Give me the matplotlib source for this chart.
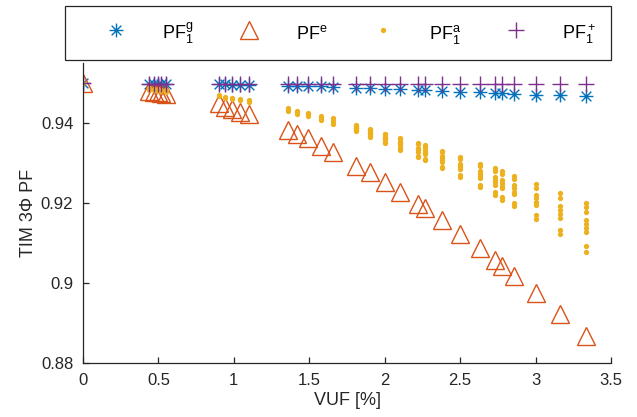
import matplotlib
matplotlib.use('Agg')
import matplotlib.pyplot as plt
from matplotlib.path import Path

plt.rcParams['font.family'] = ['Liberation Sans', 'DejaVu Sans']
plt.rcParams['mathtext.default'] = 'regular'

# VUF values of the cases (same for every series)
vuf = [0.0,
       0.44, 0.47, 0.50, 0.52, 0.55,
       0.90, 0.94, 0.99, 1.04, 1.10,
       1.36, 1.42, 1.49, 1.58, 1.66,
       1.81, 1.90, 2.00, 2.10, 2.22, 2.27, 2.38, 2.50, 2.63,
       2.73, 2.78, 2.86, 3.00, 3.16, 3.335]

pf_e = [0.9500,
        0.9481, 0.9479, 0.9477, 0.9475, 0.9473,
        0.9450, 0.9441, 0.9435, 0.9429, 0.9423,
        0.9383, 0.9373, 0.9362, 0.9343, 0.9329,
        0.9294, 0.9277, 0.9253, 0.9229, 0.9199, 0.9187, 0.9157, 0.9124, 0.9087,
        0.9058, 0.9044, 0.9019, 0.8975, 0.8924, 0.8867]

pf1_g = [0.9500,
         0.9499, 0.9499, 0.9499, 0.9499, 0.9499,
         0.9497, 0.9497, 0.9496, 0.9496, 0.9495,
         0.9494, 0.9494, 0.9493, 0.9492, 0.9491,
         0.9488, 0.9487, 0.9486, 0.9485, 0.9483, 0.9483, 0.9481, 0.9479, 0.9477,
         0.9475, 0.9475, 0.9474, 0.9471, 0.9470, 0.9467]

pf1_plus = [0.9500] + [0.9499] * 10 + [0.9498] * 20

# approximate PF (several cases per VUF value)
pf1_a = [[0.9500],
         [0.9487, 0.9484], [0.9486, 0.9482], [0.9485, 0.9481], [0.9484, 0.9480], [0.9483, 0.9478],
         [0.9470, 0.9467], [0.9466, 0.9463], [0.9464, 0.9461], [0.9460, 0.9457], [0.9457, 0.9453],
         [0.9437, 0.9434, 0.9431], [0.9431, 0.9427, 0.9424], [0.9426, 0.9422, 0.9418],
         [0.9419, 0.9414, 0.9409], [0.9412, 0.9406, 0.9399],
         [0.9395, 0.9394, 0.9390, 0.9389, 0.9387, 0.9386, 0.9382, 0.9380],
         [0.9385, 0.9383, 0.9378, 0.9376, 0.9375, 0.9373, 0.9367, 0.9365],
         [0.9374, 0.9372, 0.9366, 0.9364, 0.9362, 0.9360, 0.9353, 0.9351],
         [0.9363, 0.9360, 0.9353, 0.9351, 0.9348, 0.9345, 0.9337, 0.9334],
         [0.9351, 0.9347, 0.9339, 0.9336, 0.9332, 0.9329, 0.9319, 0.9315],
         [0.9345, 0.9341, 0.9333, 0.9329, 0.9325, 0.9322, 0.9311, 0.9307],
         [0.9331, 0.9327, 0.9317, 0.9312, 0.9308, 0.9304, 0.9291, 0.9287],
         [0.9316, 0.9311, 0.9299, 0.9294, 0.9290, 0.9285, 0.9270, 0.9265],
         [0.9299, 0.9293, 0.9280, 0.9274, 0.9268, 0.9263, 0.9246, 0.9240],
         [0.9287, 0.9280, 0.9265, 0.9258, 0.9252, 0.9246, 0.9227, 0.9220],
         [0.9280, 0.9273, 0.9257, 0.9250, 0.9243, 0.9237, 0.9216, 0.9209],
         [0.9269, 0.9260, 0.9246, 0.9238, 0.9229, 0.9223, 0.9200, 0.9192],
         [0.9248, 0.9237, 0.9221, 0.9212, 0.9204, 0.9196, 0.9171, 0.9160],
         [0.9225, 0.9214, 0.9192, 0.9182, 0.9173, 0.9163, 0.9133, 0.9123],
         [0.9200, 0.9190, 0.9179, 0.9158, 0.9148, 0.9138, 0.9127, 0.9092, 0.9079]]

xa, ya = [], []
for x, vals in zip(vuf, pf1_a):
    for v in vals:
        xa.append(x)
        ya.append(v)

# matlab style asterisk
M, L = Path.MOVETO, Path.LINETO
asterisk = Path([(-1, 0), (1, 0), (0, -1), (0, 1),
                 (-0.7, -0.7), (0.7, 0.7), (-0.7, 0.7), (0.7, -0.7)],
                [M, L, M, L, M, L, M, L])

blue = '#0072BD'
orange = '#D95319'
yellow = '#EDB120'
purple = '#7E2F8E'

fig = plt.figure(figsize=(6.37, 4.17), dpi=100)
ax = fig.add_axes([0.1303, 0.1288, 0.8289, 0.7194])

ax.plot(vuf, pf1_g, linestyle='none', marker=asterisk, ms=10, mec=blue, mfc='none',
        mew=1.0, label=r'PF$_1^g$')
ax.plot(vuf, pf_e, linestyle='none', marker='^', ms=12.5, mec=orange, mfc='none',
        mew=1.0, label=r'PF$^e$')
ax.plot(xa, ya, linestyle='none', marker='o', ms=3.8, mec='none', mfc=yellow,
        label=r'PF$_1^a$')
ax.plot(vuf, pf1_plus, linestyle='none', marker='+', ms=11, mec=purple, mew=1.0,
        label=r'PF$_1^+$')

ax.set_xlim(0, 3.5)
ax.set_ylim(0.88, 0.955)
ax.set_xticks([0, 0.5, 1, 1.5, 2, 2.5, 3, 3.5])
ax.set_xticklabels(['0', '0.5', '1', '1.5', '2', '2.5', '3', '3.5'])
ax.set_yticks([0.88, 0.9, 0.92, 0.94])
ax.set_yticklabels(['0.88', '0.9', '0.92', '0.94'])
ax.spines['top'].set_visible(False)
ax.spines['right'].set_visible(False)
for s in ['left', 'bottom']:
    ax.spines[s].set_color('#262626')
    ax.spines[s].set_linewidth(0.9)
ax.tick_params(direction='in', length=4, width=0.9, colors='#262626',
               labelsize=12, labelcolor='#262626', pad=7)
ax.set_xlabel('VUF [%]', fontsize=13, color='#262626', labelpad=3)
ax.set_ylabel('TIM 3\u03a6 PF', fontsize=13, color='#262626', labelpad=3)

leg = fig.legend(loc='lower left', bbox_to_anchor=(65 / 637, 1 - 60 / 417, 546 / 637, 52 / 417),
                 mode='expand', ncol=4, fontsize=13, fancybox=False, framealpha=1,
                 edgecolor='#262626', handlelength=4.1, handletextpad=0.5,
                 handleheight=1.5, borderaxespad=0, borderpad=0.8)
leg.get_frame().set_linewidth(0.9)

fig.savefig('out.png', dpi=100)
